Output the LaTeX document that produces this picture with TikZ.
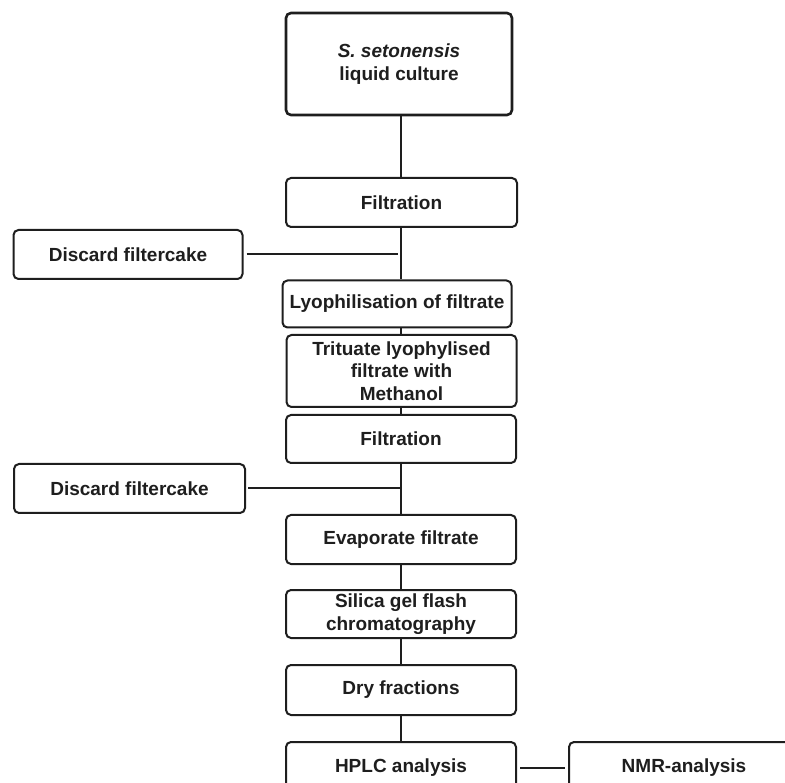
\documentclass[tikz,border=0pt]{standalone}
\usepackage{fontspec}
\setmainfont{Liberation Sans}
\definecolor{ink}{HTML}{1E1E1E}
\begin{document}
\begin{tikzpicture}[x=1pt,y=-1pt,
  stepbox/.style={draw=ink,line width=2pt,rounded corners=5pt,fill=white,
    text=ink,align=center,inner sep=0pt,
    font=\fontsize{19}{22.5}\selectfont\bfseries},
  link/.style={draw=ink,line width=2pt}]
\useasboundingbox (0,0) rectangle (785,783);
\begin{scope}
\clip (0,0) rectangle (785,783);
% boxes: centre from pixel extents
\node[stepbox,line width=2.6pt,minimum width=226pt,minimum height=102pt] (cul) at (399,64)
  {\textit{S. setonensis}\\liquid culture};
\node[stepbox,minimum width=231pt,minimum height=49pt] (f1) at (401.5,202.5) {Filtration};
\node[stepbox,minimum width=229pt,minimum height=49pt] (d1) at (128,254.5) {Discard filtercake};
\node[stepbox,minimum width=229pt,minimum height=47pt] (lyo) at (397,304) {Lyophilisation of filtrate};
\node[stepbox,minimum width=230pt,minimum height=72pt] (tri) at (401.5,371) {Trituate lyophylised\\filtrate with\\Methanol};
\node[stepbox,minimum width=230pt,minimum height=48pt] (f2) at (401,439) {Filtration};
\node[stepbox,minimum width=231pt,minimum height=49pt] (d2) at (129.5,488.5) {Discard filtercake};
\node[stepbox,minimum width=230pt,minimum height=49pt] (ev) at (401,539.5) {Evaporate filtrate};
\node[stepbox,minimum width=230pt,minimum height=48pt] (si) at (401,614) {Silica gel flash\\chromatography};
\node[stepbox,minimum width=230pt,minimum height=50pt] (dry) at (401,690) {Dry fractions};
\node[stepbox,minimum width=230pt,minimum height=52pt] (hp) at (401,768) {HPLC analysis};
\node[stepbox,minimum width=230pt,minimum height=52pt] (nmr) at (684,768) {NMR-analysis};
% connectors
\draw[link] (cul.south -| 401,0) -- (f1.north -| 401,0);
\draw[link] (f1.south -| 401,0) -- (lyo.north -| 401,0);
\draw[link] (lyo.south -| 401,0) -- (tri.north -| 401,0);
\draw[link] (tri.south -| 401,0) -- (f2.north -| 401,0);
\draw[link] (f2.south -| 401,0) -- (ev.north -| 401,0);
\draw[link] (ev.south -| 401,0) -- (si.north -| 401,0);
\draw[link] (si.south -| 401,0) -- (dry.north -| 401,0);
\draw[link] (dry.south -| 401,0) -- (hp.north -| 401,0);
\draw[link,shorten <=3pt,shorten >=3pt] (d1.east) -- (d1.east -| 401,0);
\draw[link,shorten <=2pt] (d2.east) -- (d2.east -| 401,0);
\draw[link,shorten <=3pt,shorten >=3pt] (hp.east) -- (nmr.west);
\end{scope}
\end{tikzpicture}
\end{document}
